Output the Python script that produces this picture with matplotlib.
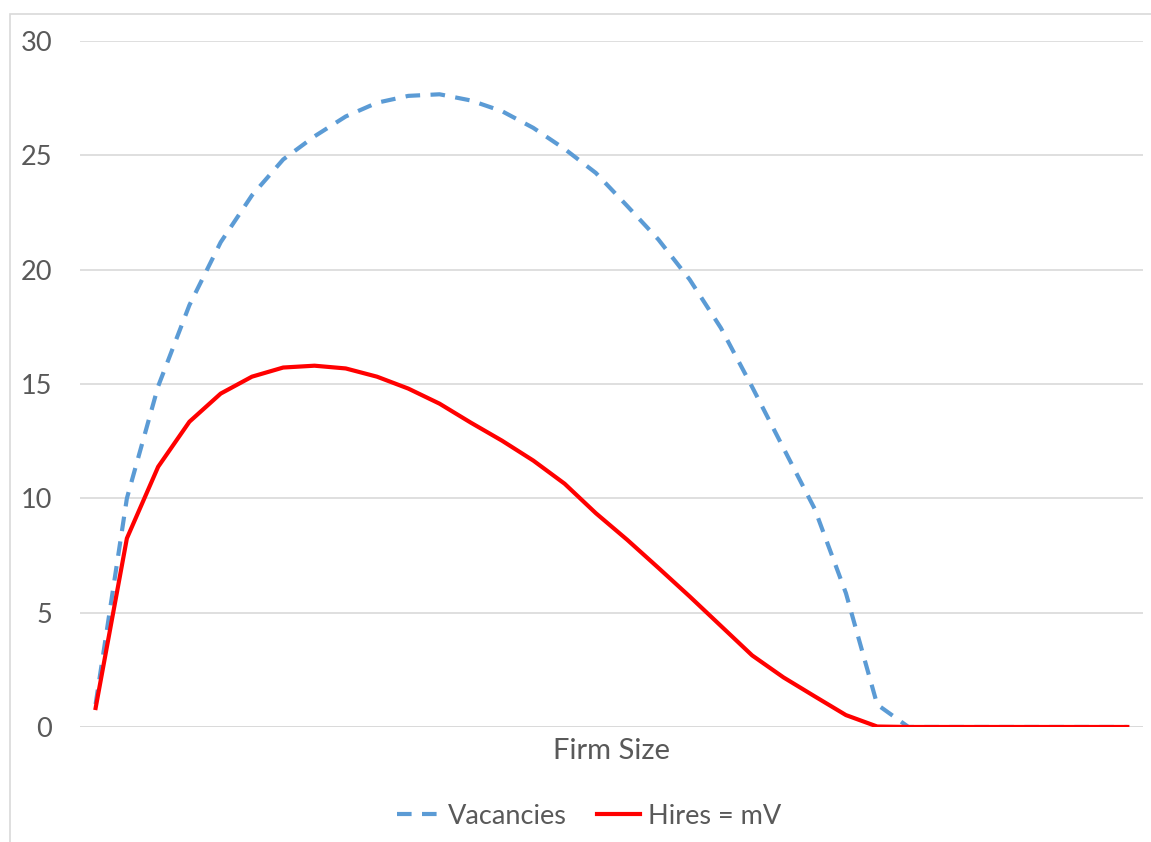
import numpy as np
import matplotlib.pyplot as plt
from matplotlib.patches import Rectangle

# Firm size categories (no labels shown on the axis)
firm_size = list(range(1, 35))

vacancies = [1.0, 10.0, 14.9, 18.45, 21.2, 23.25, 24.82, 25.83, 26.7, 27.3,
             27.6, 27.67, 27.4, 26.93, 26.2, 25.28, 24.23, 22.79, 21.32, 19.57,
             17.45, 14.87, 12.2, 9.54, 5.85, 0.98, 0.0, 0.0, 0.0, 0.0,
             0.0, 0.0, 0.0, 0.0]

hires = [0.83, 8.25, 11.38, 13.35, 14.58, 15.32, 15.72, 15.80, 15.68, 15.32,
         14.80, 14.14, 13.31, 12.52, 11.65, 10.64, 9.35, 8.19, 6.96, 5.71,
         4.42, 3.13, 2.17, 1.34, 0.52, 0.02, 0.0, 0.0, 0.0, 0.0,
         0.0, 0.0, 0.0, 0.0]

y_ticks = [0, 5, 10, 15, 20, 25, 30]

plt.rcParams['font.family'] = ['Lato', 'DejaVu Sans']
text_grey = '#595959'

fig = plt.figure(figsize=(11.51, 8.42), dpi=100)
ax = fig.add_axes([0.0695, 0.1366, 0.9235, 0.8147])

x = np.arange(len(firm_size))
ax.plot(x, vacancies, color='#5B9BD5', lw=3, linestyle=(0, (3.5, 2.5)),
        label='Vacancies', zorder=3)
ax.plot(x, hires, color='#FF0000', lw=3, label='Hires = mV', zorder=4)

ax.set_xlim(-0.5, len(firm_size) - 0.5)
ax.set_ylim(0, 30)
ax.set_yticks(y_ticks)
ax.set_xticks([])
ax.tick_params(axis='y', length=0, pad=20, labelsize=19.5, labelcolor=text_grey)
ax.yaxis.grid(True, color='#D9D9D9', lw=1.2)
ax.set_axisbelow(True)
for s in ax.spines.values():
    s.set_visible(False)
ax.axhline(0, color='#D9D9D9', lw=1.2, zorder=1)

ax.set_xlabel('Firm Size', fontsize=21, color=text_grey, labelpad=8)

fig.legend(loc='center', bbox_to_anchor=(589 / 1151, 1 - 816 / 842),
           ncol=2, frameon=False, fontsize=19.5, labelcolor=text_grey,
           handlelength=1.6, columnspacing=1.1, handletextpad=0.3)

# thin chart border
fig.patches.append(Rectangle((10 / 1151, -0.1), 1.2, 0.1 + (842 - 14) / 842,
                             transform=fig.transFigure, fill=False,
                             edgecolor='#D9D9D9', lw=1.2))

fig.savefig('out.png', dpi=100)
